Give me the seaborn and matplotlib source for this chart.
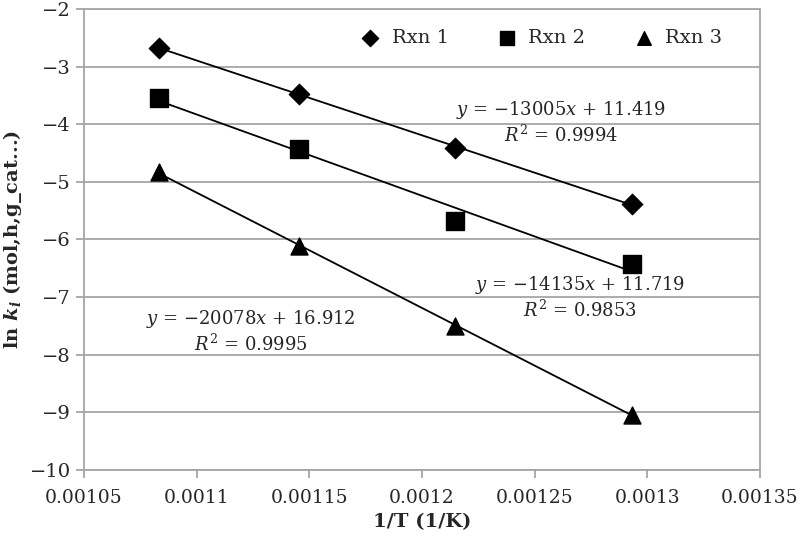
import numpy as np
import pandas as pd
import matplotlib
matplotlib.use("Agg")
import matplotlib.pyplot as plt
import seaborn as sns

# 1/T for 650, 600, 550, 500 C
inv_T = [1 / 923.15, 1 / 873.15, 1 / 823.15, 1 / 773.15]
rxn1 = [-2.67, -3.47, -4.41, -5.39]
rxn2 = [-3.54, -4.42, -5.68, -6.43]
rxn3 = [-4.83, -6.11, -7.51, -9.04]
series_names = ["Rxn 1", "Rxn 2", "Rxn 3"]
markers = ["D", "s", "^"]
eq_text = [
    "$y$ = \u221213005$x$ + 11.419\n$R^2$ = 0.9994",
    "$y$ = \u221214135$x$ + 11.719\n$R^2$ = 0.9853",
    "$y$ = \u221220078$x$ + 16.912\n$R^2$ = 0.9995",
]
eq_pos = [(0.0012617, -3.96), (0.0012701, -7.0), (0.0011241, -7.59)]
x_ticks = [0.00105, 0.0011, 0.00115, 0.0012, 0.00125, 0.0013, 0.00135]
x_tick_labels = ["0.00105", "0.0011", "0.00115", "0.0012", "0.00125", "0.0013", "0.00135"]

sns.set_style("white")
plt.rcParams["font.family"] = ["DejaVu Serif"]
plt.rcParams["mathtext.fontset"] = "dejavuserif"

df = pd.DataFrame({
    "x": inv_T * 3,
    "y": rxn1 + rxn2 + rxn3,
    "rxn": [n for n in series_names for _ in inv_T],
})

fig = plt.figure(figsize=(8, 5.4), dpi=100)
ax = fig.add_axes([0.105, 0.13, 0.845, 0.853])

sizes = [110, 150, 150]
for name, m, s in zip(series_names, markers, sizes):
    sub = df[df.rxn == name]
    sns.regplot(data=sub, x="x", y="y", ax=ax, scatter=False, ci=None,
                truncate=True, color="black", line_kws={"lw": 1.3})
    sns.scatterplot(data=sub, x="x", y="y", ax=ax, marker=m, s=s,
                    color="black", edgecolor="black", label=name, zorder=5)

for txt, (px, py) in zip(eq_text, eq_pos):
    ax.text(px, py, txt, ha="center", va="center", fontsize=13, linespacing=1.2)

ax.set_xlim(0.00105, 0.00135)
ax.set_ylim(-10, -2)
ax.set_xticks(x_ticks)
ax.set_xticklabels(x_tick_labels)
ax.set_yticks(range(-10, -1))
ax.set_yticklabels(["\u2212%d" % abs(v) for v in range(-10, -1)])
ax.yaxis.grid(True, color="#a6a6a6", lw=1.3)
ax.set_axisbelow(True)
for sp in ax.spines.values():
    sp.set_color("#a6a6a6")
    sp.set_linewidth(1.3)
ax.tick_params(axis="both", labelsize=14, color="#a6a6a6", length=6, width=1.3,
               direction="out", left=True, bottom=True)
ax.tick_params(axis="x", labelsize=13.5, pad=8)

ax.set_xlabel("1/T (1/K)", fontsize=14, fontweight="bold", labelpad=4)
ax.set_ylabel(r"ln $\mathbfit{k_i}$ (mol,h,g_cat...)", fontsize=14, fontweight="bold")

ax.legend(loc="upper right", bbox_to_anchor=(0.97, 0.995), ncol=3, frameon=False,
          fontsize=14, handletextpad=0.1, columnspacing=2.0, markerscale=0.8)

fig.savefig("out.png", dpi=100)
